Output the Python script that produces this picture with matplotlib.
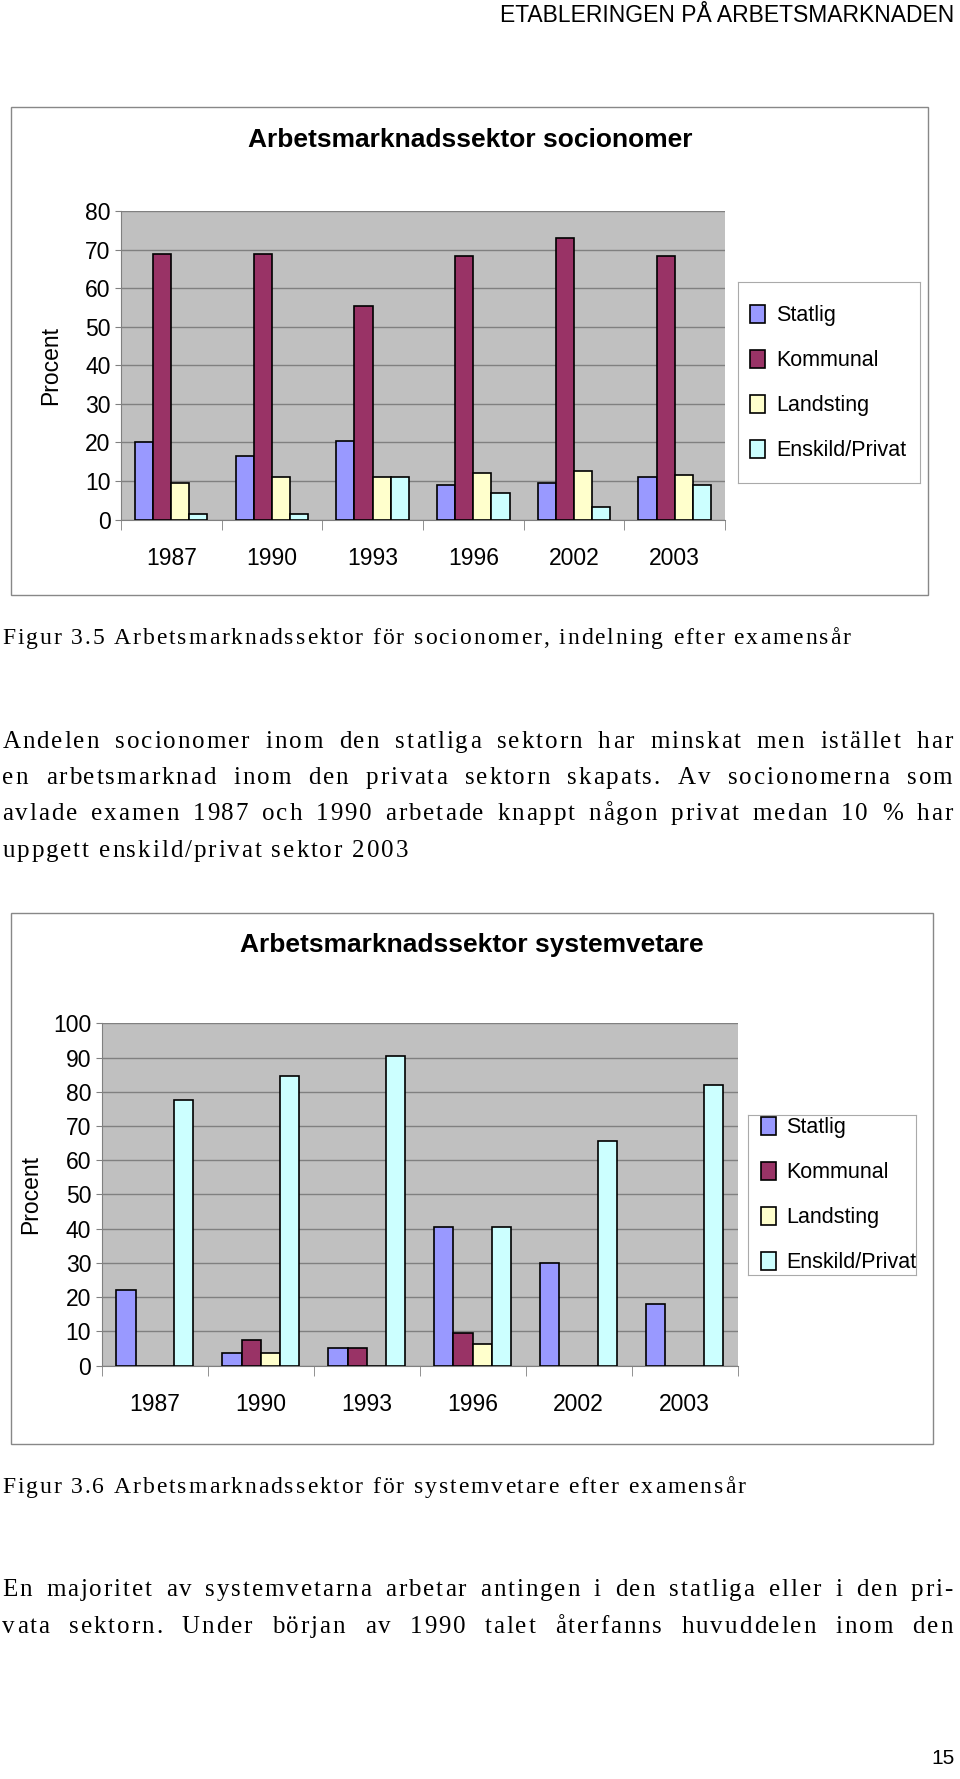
import matplotlib
matplotlib.use("Agg")
import matplotlib.pyplot as plt
import numpy as np
from matplotlib.patches import Rectangle

years = ["1987", "1990", "1993", "1996", "2002", "2003"]
series = ["Statlig", "Kommunal", "Landsting", "Enskild/Privat"]
colors = ["#9999FF", "#993366", "#FFFFCC", "#CCFFFF"]

soc_statlig = [20, 16.5, 20.5, 9, 9.5, 11]
soc_kommunal = [69, 69, 55.5, 68.5, 73, 68.5]
soc_landsting = [9.5, 11, 11, 12, 12.7, 11.5]
soc_privat = [1.5, 1.5, 11, 7, 3.3, 9]

sys_statlig = [22, 3.8, 5, 40.5, 30, 18]
sys_kommunal = [0, 7.5, 5, 9.5, 0, 0]
sys_landsting = [0, 3.8, 0, 6.3, 0, 0]
sys_privat = [77.5, 84.5, 90.5, 40.5, 65.5, 82]

W, H = 850.0, 1575.0
fig = plt.figure(figsize=(9.6, 17.79), dpi=100)

def rect(x0, y0, x1, y1):
    return [x0 / W, 1 - y1 / H, (x1 - x0) / W, (y1 - y0) / H]

def fx(x): return x / W
def fy(y): return 1 - y / H

SANS = "Liberation Sans"
SERIF = "Liberation Serif"

def chart(frame, axrect, legrect, title, title_y, data, ymax, step, ylab_x):
    fig.patches.append(Rectangle((fx(frame[0]), fy(frame[3])), fx(frame[2]) - fx(frame[0]),
                                 fy(frame[1]) - fy(frame[3]), transform=fig.transFigure,
                                 fill=False, ec="#888888", lw=1))
    fig.text(fx((frame[0] + frame[2]) / 2), fy(title_y), title, ha="center", va="center",
             fontsize=19, fontweight="bold", family=SANS)
    ax = fig.add_axes(rect(*axrect))
    ax.set_facecolor("#C0C0C0")
    x = np.arange(len(years))
    w = 0.18
    handles = []
    for i, (vals, c) in enumerate(zip(data, colors)):
        h = ax.bar(x + (i - 1.5) * w, vals, w, color=c, edgecolor="black", lw=1.2, zorder=3,
                   label=series[i])
        handles.append(h)
    ax.set_xlim(-0.5, len(years) - 0.5)
    ax.set_ylim(0, ymax)
    ax.set_yticks(np.arange(0, ymax + 1, step))
    ax.yaxis.grid(True, color="#808080", lw=1, zorder=0)
    ax.set_xticks(x)
    ax.set_xticklabels(years)
    ax.set_xticks(np.arange(-0.5, len(years)), minor=True)
    ax.tick_params(axis="x", which="major", length=0, pad=20, labelsize=16.5)
    ax.tick_params(axis="x", which="minor", length=7, color="#808080")
    ax.tick_params(axis="y", length=4, labelsize=16.5, color="#808080")
    for lab in ax.get_xticklabels() + ax.get_yticklabels():
        lab.set_family(SANS)
    for s in ["top", "right"]:
        ax.spines[s].set_visible(False)
    for s in ["left", "bottom"]:
        ax.spines[s].set_color("#808080")
    fig.text(fx(ylab_x), 1 - ((axrect[1] + axrect[3]) / 2) / H, "Procent", rotation=90,
             ha="center", va="center", fontsize=16.5, family=SANS)
    lax = fig.add_axes(rect(*legrect))
    lax.set_xticks([]); lax.set_yticks([])
    for s in lax.spines.values():
        s.set_color("#AAAAAA")
    lax.legend(handles=handles, loc="center left", frameon=False,
               prop={"family": SANS, "size": 15.5}, handlelength=0.7, handleheight=0.9,
               handletextpad=0.5, labelspacing=1.1, borderaxespad=0.2)
    return ax

chart((10, 95, 822, 527), (107, 187, 642, 460), (653, 250, 815, 428),
      "Arbetsmarknadssektor socionomer", 124,
      [soc_statlig, soc_kommunal, soc_landsting, soc_privat], 80, 10, 45)
chart((10, 808, 826, 1278), (90, 906, 653, 1209), (662, 987, 811, 1129),
      "Arbetsmarknadssektor systemvetare", 837,
      [sys_statlig, sys_kommunal, sys_landsting, sys_privat], 100, 10, 27)

fig.text(fx(845), fy(14), "ETABLERINGEN PÅ ARBETSMARKNADEN", ha="right", va="center",
         fontsize=16.5, family=SANS)
fig.text(fx(845), fy(1557), "15", ha="right", va="center", fontsize=15, family=SANS)

fig.canvas.draw()
renderer = fig.canvas.get_renderer()
FW = fig.bbox.width
_cache = {}

def cw(ch, size):
    key = (ch, size)
    if key not in _cache:
        t = fig.text(0, 0, "x" + ch + "x", fontsize=size, family=SERIF)
        t2 = fig.text(0, 0, "xx", fontsize=size, family=SERIF)
        _cache[key] = (t.get_window_extent(renderer).width - t2.get_window_extent(renderer).width) / FW
        t.remove(); t2.remove()
    return _cache[key]

TRACK = 1.7 / W

def line(y, s, justify=False, size=17):
    words = s.split(" ")
    wwidths = [sum(cw(c, size) + TRACK for c in wd) for wd in words]
    left, right = fx(2), fx(845)
    if justify:
        gap = (right - left - sum(wwidths)) / (len(words) - 1)
    else:
        gap = cw(" ", size) + TRACK
    xp = left
    for wd, wdt in zip(words, wwidths):
        cx = xp
        for c in wd:
            fig.text(cx, fy(y), c, ha="left", va="center", fontsize=size, family=SERIF)
            cx += cw(c, size) + TRACK
        xp += wdt + gap

line(565, "Figur 3.5 Arbetsmarknadssektor för socionomer, indelning efter examensår")
line(657, "Andelen socionomer inom den statliga sektorn har minskat men istället har", True, 18)
line(689, "en arbetsmarknad inom den privata sektorn skapats. Av socionomerna som", True, 18)
line(721, "avlade examen 1987 och 1990 arbetade knappt någon privat medan 10 % har", True, 18)
line(753, "uppgett enskild/privat sektor 2003", False, 18)
line(1317, "Figur 3.6 Arbetsmarknadssektor för systemvetare efter examensår")
line(1408, "En majoritet av systemvetarna arbetar antingen i den statliga eller i den pri-", True, 18)
line(1440, "vata sektorn. Under början av 1990 talet återfanns huvuddelen inom den", True, 18)

fig.savefig("out.png", dpi=100)
